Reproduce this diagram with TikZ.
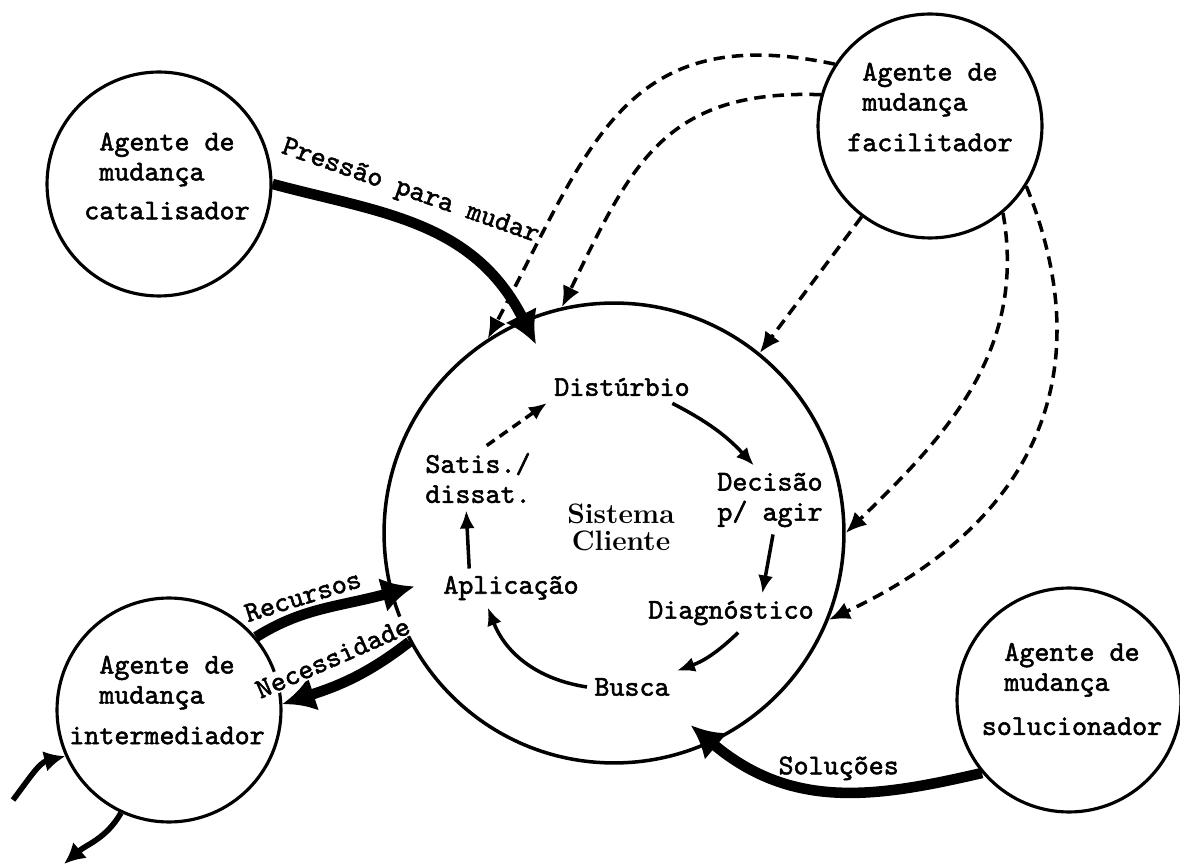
\documentclass[tikz,border=0pt]{standalone}
\usepackage{fontspec}
\setmonofont{lmmono10-regular.otf}[AutoFakeBold=1.8]
\usetikzlibrary{arrows.meta}

\begin{document}
\begin{tikzpicture}[x=0.02cm,y=-0.02cm]
\tikzstyle{agente}=[circle,draw,line width=1.8pt,minimum size=4.48cm,inner sep=0pt]
\tikzstyle{texto}=[font=\ttfamily\bfseries\fontsize{16.3}{17.1}\selectfont,align=center,inner sep=4pt]
\tikzstyle{marca}=[texto,inner sep=1pt]
\tikzstyle{grosso}=[line width=6pt,-{Latex[length=0.65cm,width=0.7cm]}]
\tikzstyle{medio}=[line width=3.2pt,-{Latex[length=0.42cm,width=0.42cm]}]
\tikzstyle{fino}=[line width=2pt,-{Latex[length=0.36cm,width=0.3cm]}]
\tikzstyle{tracejado}=[line width=2pt,dash pattern=on 6.5pt off 4pt,-{Latex[length=0.42cm,width=0.36cm]}]

\useasboundingbox (0,0) rectangle (1180,864);

% sistema cliente
\node[circle,draw,line width=2pt,minimum size=9.2cm] (sis) at (614,533) {};
\node[font=\rmfamily\bfseries\fontsize{16}{15.4}\selectfont,align=center] (sisT) at (621,527) {Sistema\\Cliente};

\node[texto] (dist) at (622,387) {Distúrbio};
\node[texto] (dec) at (770,500) {Decisão\\p/ agir};
\node[texto] (diag) at (731,613) {Diagnóstico};
\node[texto] (busca) at (632,687) {Busca};
\node[texto] (apl) at (511,588) {Aplicação};
\node[texto] (sat) at (478,478) {Satis./\\dissat.};

\draw[fino] (dist.-18) to[bend left=10] (dec.115);
\draw[fino] (dec.-85) -- (diag.32);
\draw[fino] (diag.-70) to[bend left=12] (busca.north east);
\draw[fino] (busca.west) to[bend left=30] (apl.-140);
\draw[fino] (apl.155) -- (sat.-110);
\draw[fino,dash pattern=on 5.5pt off 3.5pt] (sat.75) -- (dist.192);

% agentes de mudanca
\node[agente] (cat) at (159,184) {};
\node[texto] (catT) at (167,176) {Agente de\\mudança\phantom{xx}\\[5pt]catalisador};
\node[agente] (fac) at (930,126) {};
\node[texto] (facT) at (930,107) {Agente de\\mudança\phantom{xx}\\[6pt]facilitador};
\node[agente] (int) at (169,710) {};
\node[texto] (intT) at (167,700) {Agente de\\mudança\phantom{xx}\\[6pt]intermediador};
\node[agente] (sol) at (1069,700) {};
\node[texto] (solT) at (1072,689) {Agente de\\mudança\phantom{xx}\\[8pt]solucionador};

% catalisador
\draw[grosso,shorten >=-0.55cm] (cat.east) to[out=-15,in=117]
  node[marca,above=5pt,sloped,pos=0.43] {Pressão para mudar} (sis.113);

% facilitador
\draw[tracejado] (fac.147) to[out=168,in=62,looseness=1.25] (sis.123);
\draw[tracejado] (fac.164) to[out=178,in=64,looseness=1.2] (sis.103);
\draw[tracejado] (fac.233) -- (sis.51);
\draw[tracejado] (fac.-50) to[out=-80,in=44] (sis.0);
\draw[tracejado] (fac.-32) to[out=-68,in=25,looseness=1.15] (sis.-22);

% intermediador
\draw[{Latex[length=0.65cm,width=0.7cm]}-,line width=6pt] (int.3) to[out=18,in=218]
  node[marca,above=6pt,sloped,fill=white,pos=0.45] {Necessidade} (sis.208);
\draw[grosso,shorten >=-0.5cm] (int.40) to[out=32,in=195]
  node[marca,above=1pt,sloped,pos=0.4] {Recursos} (sis.195);
\coordinate (entra) at (13,800);
\coordinate (sai) at (64,864);
\draw[medio] (entra) to[out=53,in=194] (int.204);
\draw[medio] (int.245) to[out=-120,in=41] (sai);

% solucionador
\draw[grosso,shorten >=-0.55cm] (sol.220) to[out=193,in=-40]
  node[marca,above=3pt] {Soluções} (sis.-65);
\end{tikzpicture}
\end{document}
